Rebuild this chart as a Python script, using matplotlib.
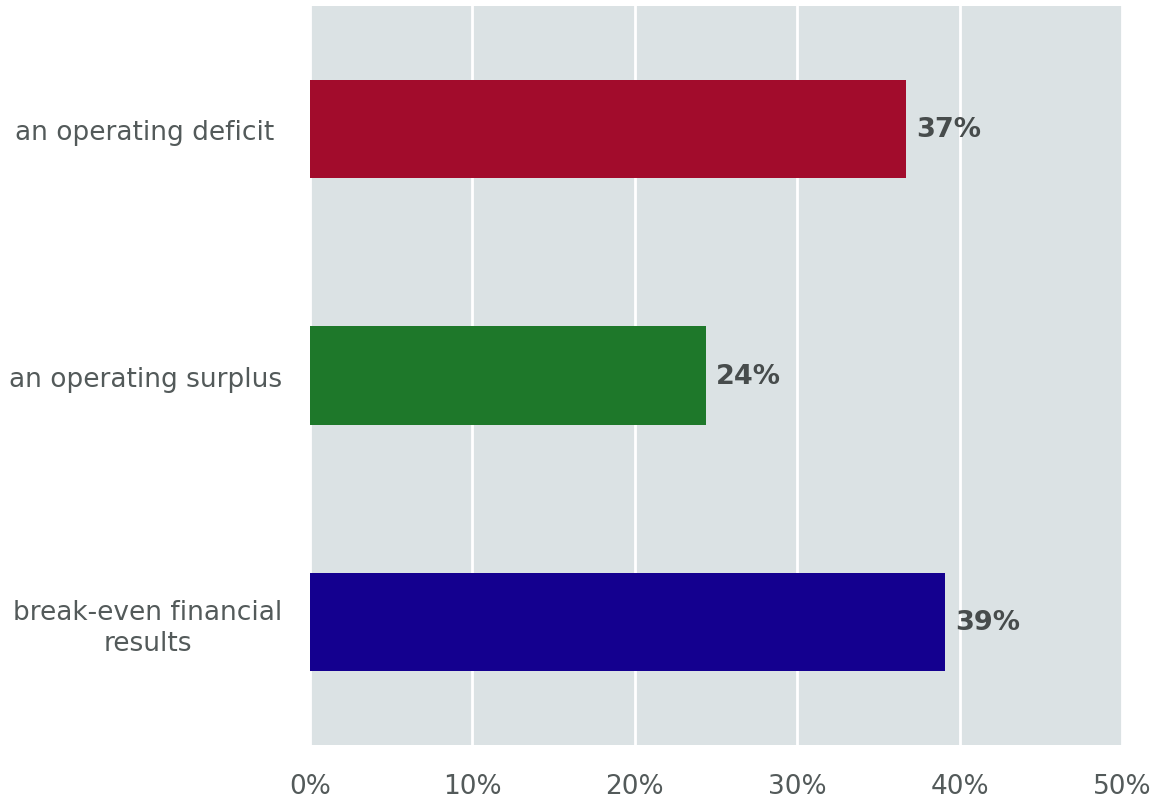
import matplotlib
matplotlib.use("Agg")
import matplotlib.pyplot as plt
from matplotlib.ticker import FuncFormatter

categories = ["an operating deficit ", "an operating surplus", "break-even financial\nresults"]
values = [36.7, 24.4, 39.1]
colors = ["#a20c2c", "#1e782a", "#14008f"]
xticks = [0, 10, 20, 30, 40, 50]

plt.rcParams["font.family"] = ["DejaVu Sans"]

fig = plt.figure(figsize=(11.58, 8.04), dpi=100)
ax = fig.add_axes([0.2677, 0.0721, 0.7012, 0.9192])
ax.set_facecolor("#dbe2e4")

ypos = list(range(len(categories)))
ax.barh(ypos, values, height=0.4, color=colors, zorder=3)

for y, v in zip(ypos, values):
    ax.annotate(f"{v:.0f}%", xy=(v, y), xytext=(7, 0), textcoords="offset points",
                va="center", ha="left", fontsize=19.5, fontweight="bold",
                color="#474c4c", zorder=4)

ax.set_xlim(0, 50)
ax.set_ylim(-0.5, 2.5)
ax.invert_yaxis()
ax.set_xticks(xticks)
ax.xaxis.set_major_formatter(FuncFormatter(lambda x, p: f"{x:.0f}%"))
ax.set_yticks(ypos)
ax.set_yticklabels(categories, multialignment="center", linespacing=1.25)

ax.grid(axis="x", color="white", linewidth=2, zorder=1)
ax.grid(axis="y", visible=False)
for s in ax.spines.values():
    s.set_visible(False)
ax.tick_params(axis="both", length=0, labelsize=19, colors="#535a5a")
ax.tick_params(axis="x", pad=20)
ax.tick_params(axis="y", pad=20)

fig.savefig("out.png", dpi=100)
